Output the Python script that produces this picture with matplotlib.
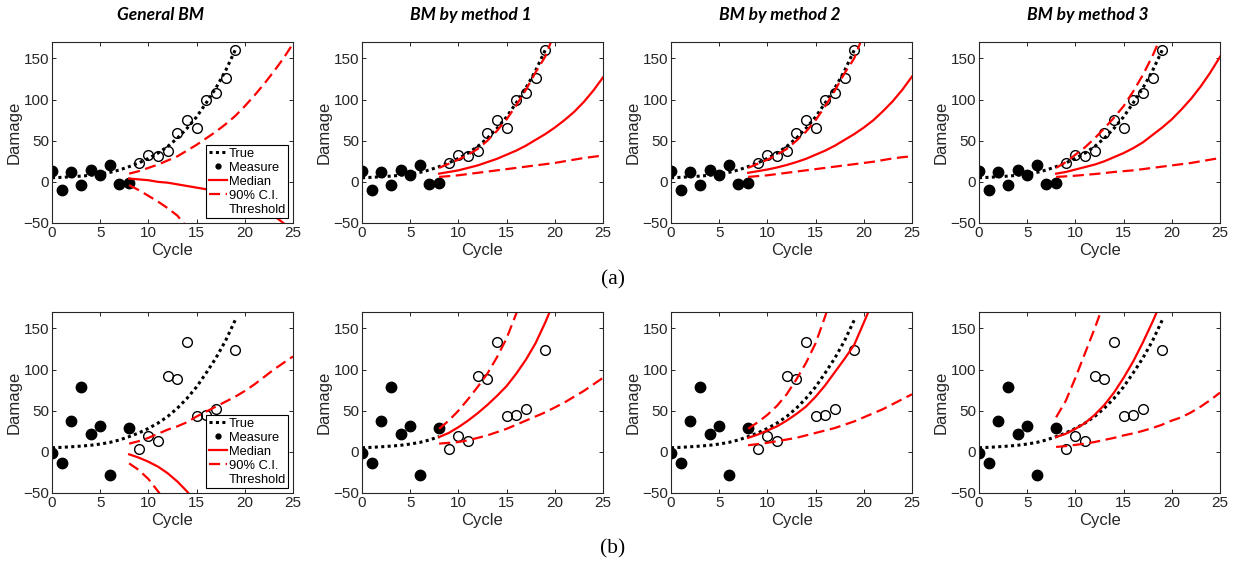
import numpy as np
import matplotlib
matplotlib.use("Agg")
import matplotlib.pyplot as plt
from matplotlib.lines import Line2D

plt.rcParams['font.family'] = ['Liberation Sans', 'DejaVu Sans']

# measured damage per cycle (cycles 0-8 used for fitting, 9-19 kept for checking)
cycles = np.arange(0, 20)
meas_a = [13, -10, 12, -4, 15, 8, 20, -2, -1, 23, 33, 31, 37, 60, 75, 66, 100, 108, 126, 160]
meas_b = [-1, -13, 37, 79, 22, 32, -28, np.nan, 29, 3, 19, 13, 92, 89, 133, 44, 45, 52, np.nan, 124]
n_fit = 9

# true damage path
true_dmg = [5, 5.5, 6.2, 7, 8, 9.5, 11.5, 14.5, 18.5, 23, 28.5, 35, 43, 53, 65, 79, 96, 114, 135, 160]

# predicted cycles (from the last fitted cycle onward)
pred = np.arange(8, 26)

# (a) low-noise data: median, lower 5%, upper 95%
a_gen_med = [4, 3, 2, 0, -1, -3, -5, -7, -9, -12, -15, -19, -23, -28, -34, -41, -50, -60]
a_gen_lo = [-4, -10, -17, -24, -32, -41, -55, -70]
a_gen_hi = [10, 13, 17, 21, 26, 31, 38, 45, 53, 61, 70, 80, 92, 105, 119, 134, 150, 168]

a_m1_med = [10, 12, 14, 17, 20, 24, 28, 33, 38, 44, 51, 58, 66, 75, 85, 97, 111, 127]
a_m1_lo = [6, 7, 8, 9.5, 11, 12.5, 14, 15.5, 17, 18.5, 20, 21.5, 23, 25, 27, 29, 30.5, 32]
a_m1_hi = [17, 22, 27, 33, 40, 50, 62, 76, 93, 112, 133, 152, 182]

a_m2_med = [11, 13, 15, 17.5, 20.5, 24, 28, 33, 38, 44, 51, 58, 66, 75, 86, 98, 112, 128]
a_m2_lo = [6, 7, 8, 9.5, 11, 12.5, 14, 15.5, 17, 18.5, 20, 21.5, 23, 24.5, 26.5, 28.5, 30, 31]
a_m2_hi = [17, 22, 27, 33, 40, 50, 61, 75, 92, 111, 132, 150, 180]

a_m3_med = [10, 12, 15, 18, 21, 25, 30, 35, 41, 48, 57, 66, 76, 88, 101, 116, 133, 152]
a_m3_lo = [6, 6.7, 7.5, 8.5, 9.5, 10.7, 12, 13, 14, 15.5, 17, 18.5, 20, 21.5, 23, 25, 27, 29]
a_m3_hi = [17, 24, 33, 42, 53, 65, 78, 92, 110, 130, 153, 180]

# (b) high-noise data
b_gen_med = [-3, -7, -12, -18, -26, -36, -48, -62]
b_gen_lo = [-14, -22, -33, -48, -65]
b_gen_hi = [10, 13, 17, 22, 27, 31, 36, 43, 49, 55, 61, 67, 74, 82, 91, 100, 108, 116]

b_m1_med = [18, 23, 30, 38, 47, 57, 68, 80, 95, 112, 132, 157, 185]
b_m1_lo = [10, 11, 12, 14, 17, 20, 24, 28, 33, 38, 43, 48, 54, 60, 67, 74, 82, 90]
b_m1_hi = [28, 38, 50, 64, 79, 95, 115, 138, 168, 200]

b_m2_med = [17, 21, 26, 31, 38, 46, 55, 67, 81, 97, 113, 130, 157, 185]
b_m2_lo = [8, 9.5, 11, 13, 15, 17, 20, 23, 26, 29, 33, 37, 42, 47, 52, 58, 64, 70]
b_m2_hi = [28, 36, 45, 56, 70, 88, 108, 132, 165, 200]

b_m3_med = [18, 22, 28, 35, 45, 57, 72, 90, 110, 133, 158, 185]
b_m3_lo = [6, 7, 8.5, 10, 12, 14.5, 17, 20, 22.5, 25.5, 29, 33, 38, 42, 48, 55, 63, 72]
b_m3_hi = [42, 62, 90, 120, 150, 182]

titles = ["General BM", "BM by method 1", "BM by method 2", "BM by method 3"]
rows = [
    (meas_a, [(a_gen_med, a_gen_lo, a_gen_hi), (a_m1_med, a_m1_lo, a_m1_hi),
              (a_m2_med, a_m2_lo, a_m2_hi), (a_m3_med, a_m3_lo, a_m3_hi)]),
    (meas_b, [(b_gen_med, b_gen_lo, b_gen_hi), (b_m1_med, b_m1_lo, b_m1_hi),
              (b_m2_med, b_m2_lo, b_m2_hi), (b_m3_med, b_m3_lo, b_m3_hi)]),
]
# how far the true path is drawn in each panel
true_end = [[20, 20, 20, 20], [20, 9, 20, 20]]

W, H = 1235, 568
fig = plt.figure(figsize=(W / 100, H / 100), dpi=100)

lefts = [52, 362, 671, 979]
ax_w = 241
row_tops = [42, 312]
ax_h = 181
gray = '#262626'
dash = (0, (5, 2.5))
dots = (0, (1, 1.1))

for r, (meas, preds) in enumerate(rows):
    for c in range(4):
        x0 = lefts[c] / W
        y0 = 1 - (row_tops[r] + ax_h) / H
        ax = fig.add_axes([x0, y0, ax_w / W, ax_h / H])

        med, lo, hi = preds[c]
        n = true_end[r][c]
        ax.plot(cycles[:n], true_dmg[:n], color='k', lw=2.2, ls=dots)
        ax.plot(cycles[:n_fit], meas[:n_fit], 'o', color='k', ms=7.5)
        ax.plot(cycles[n_fit:], meas[n_fit:], 'o', mfc='none', mec='k', ms=7, mew=1)
        ax.plot(pred[:len(med)], med, color='red', lw=1.6)
        ax.plot(pred[:len(lo)], lo, color='red', lw=1.6, ls=dash)
        ax.plot(pred[:len(hi)], hi, color='red', lw=1.6, ls=dash)

        ax.set_xlim(0, 25)
        ax.set_ylim(-50, 170)
        ax.set_xticks([0, 5, 10, 15, 20, 25])
        ax.set_yticks([-50, 0, 50, 100, 150])
        ax.tick_params(direction='in', top=True, right=True, length=3, width=0.7,
                       color=gray, labelcolor=gray, labelsize=11, pad=2)
        for s in ax.spines.values():
            s.set_color(gray)
            s.set_linewidth(0.8)
        ax.set_xlabel("Cycle", fontsize=12, color=gray, labelpad=2)
        ax.set_ylabel("Damage", fontsize=12, color=gray, labelpad=1)

        if r == 0:
            fig.text(x0 + ax_w / W / 2 - 12 / W, 1 - 15 / H, titles[c], ha='center', va='center',
                     fontsize=12.5, fontweight='bold', fontstyle='italic', family=['Lato', 'DejaVu Sans'])

        if c == 0:
            handles = [
                Line2D([], [], color='k', lw=2.2, ls=dots),
                Line2D([], [], color='k', ls='none', marker='.', ms=7),
                Line2D([], [], color='red', lw=1.6),
                Line2D([], [], color='red', lw=1.6, ls=dash),
                Line2D([], [], color='none'),
            ]
            labels = ["True", "Measure", "Median", "90% C.I.", "Threshold"]
            leg = ax.legend(handles, labels, loc='lower right', fontsize=9.3, frameon=True,
                            fancybox=False, framealpha=1, edgecolor='k', borderpad=0.2,
                            labelspacing=0.15, handlelength=1.4, handletextpad=0.12,
                            borderaxespad=0.35)
            leg.get_frame().set_linewidth(0.8)

fig.text(613 / W, 1 - 280 / H, "(a)", ha='center', va='center', fontsize=15.5,
         family=['Liberation Serif', 'DejaVu Serif'])
fig.text(613 / W, 1 - 549 / H, "(b)", ha='center', va='center', fontsize=15.5,
         family=['Liberation Serif', 'DejaVu Serif'])

fig.savefig("out.png", dpi=100)
